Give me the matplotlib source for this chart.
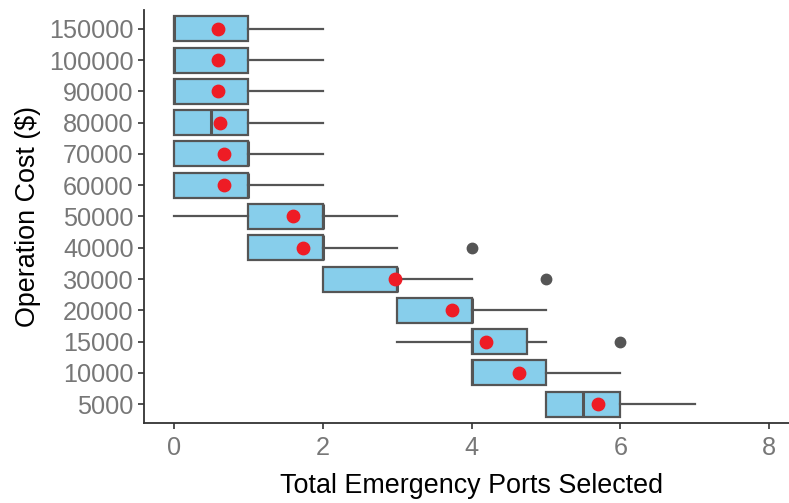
import numpy as np
from matplotlib import pyplot as plt

plt.rcParams['font.family'] = ['Liberation Sans', 'DejaVu Sans']

# categorias (de baixo para cima)
custos = ["5000", "10000", "15000", "20000", "30000", "40000", "50000",
          "60000", "70000", "80000", "90000", "100000", "150000"]

# estatisticas das caixas
minimo = [5, 4, 3, 3, 2, 1, 0, 0, 0, 0, 0, 0, 0]
q1 = [5, 4, 4, 3, 2, 1, 1, 0, 0, 0, 0, 0, 0]
mediana = [5.5, 4, 4, 4, 3, 2, 2, 1, 1, 0.5, 0, 0, 0]
q3 = [6, 5, 4.75, 4, 3, 2, 2, 1, 1, 1, 1, 1, 1]
maximo = [7, 6, 5, 5, 4, 3, 3, 2, 2, 2, 2, 2, 2]
medias = [5.7, 4.64, 4.19, 3.74, 2.97, 1.74, 1.6, 0.67, 0.67, 0.62, 0.59, 0.59, 0.59]
outliers = [[], [], [6], [], [5], [4], [], [], [], [], [], [], []]

cinza = '#555555'

stats = []
for i in range(len(custos)):
    stats.append({'whislo': minimo[i], 'q1': q1[i], 'med': mediana[i],
                  'q3': q3[i], 'whishi': maximo[i], 'fliers': outliers[i]})

fig = plt.figure(figsize=(7.89, 5.03), dpi=100)
ax = fig.add_axes([144 / 789, 80 / 503, 655 / 789, 413 / 503])

pos = np.arange(1, len(custos) + 1)
ax.bxp(stats, positions=pos, vert=False, widths=0.8, patch_artist=True,
       showcaps=False,
       boxprops=dict(facecolor='#87CEEB', edgecolor=cinza, linewidth=1.6),
       medianprops=dict(color=cinza, linewidth=2.2),
       whiskerprops=dict(color=cinza, linewidth=1.6),
       flierprops=dict(marker='o', markerfacecolor=cinza, markeredgecolor=cinza,
                       markersize=7.5))
ax.scatter(medias, pos, s=80, color='#EE1C25', zorder=5)

ax.set_xlim(-0.4, 8.4)
ax.set_ylim(0.4, len(custos) + 0.6)
ax.set_xticks([0, 2, 4, 6, 8])
ax.set_yticks(pos)
ax.set_yticklabels(custos)

for s in ['top', 'right']:
    ax.spines[s].set_visible(False)
for s in ['left', 'bottom']:
    ax.spines[s].set_color('#333333')
    ax.spines[s].set_linewidth(1.3)
ax.tick_params(axis='both', labelsize=18.2, labelcolor='#777777', color='#333333',
               length=4, width=1.2)
ax.tick_params(axis='x', pad=5.5)

ax.set_xlabel('Total Emergency Ports Selected', fontsize=19.4, labelpad=9)
ax.set_ylabel('Operation Cost ($)', fontsize=19.4, labelpad=6)

fig.savefig('out.png', dpi=100)
